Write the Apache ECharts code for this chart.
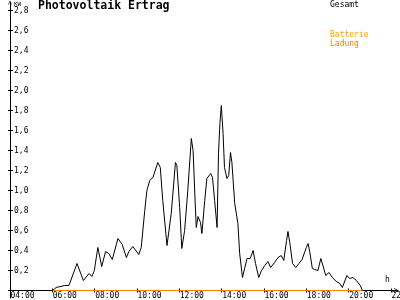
<!DOCTYPE html>
<html><head><meta charset="utf-8">
<script src="https://cdn.jsdelivr.net/npm/echarts@6/dist/echarts.min.js"></script>
<style>html,body{margin:0;padding:0;background:#fff}#c{width:400px;height:300px}</style>
</head><body><div id="c"></div>
<script>
// ---- data ----
const xTickLabels = ['04:00','06:00','08:00','10:00','12:00','14:00','16:00','18:00','20:00','22:00'];
const yTickLabels = ['', '0,2','0,4','0,6','0,8','1,0','1,2','1,4','1,6','1,8','2,0','2,2','2,4','2,6','2,8'];
const gesamtTimes = ['06:01','06:11','06:35','06:47','07:10','07:28','07:44','07:52','07:59','08:09','08:20','08:31','08:40','08:50','09:06','09:18','09:30','09:37','09:48','10:05','10:12','10:22','10:28','10:36','10:45','10:50','10:59','11:06','11:13','11:25','11:37','11:49','11:53','12:01','12:07','12:15','12:24','12:34','12:39','12:45','12:48','12:53','13:00','13:04','13:12','13:18','13:23','13:29','13:34','13:40','13:47','13:51','13:55','13:59','14:04','14:08','14:15','14:20','14:25','14:29','14:37','14:46','14:51','14:59','15:05','15:12','15:21','15:29','15:36','15:45','15:53','16:02','16:11','16:19','16:30','16:40','16:49','16:56','17:04','17:08','17:13','17:21','17:30','17:39','17:48','17:53','18:00','18:05','18:10','18:17','18:24','18:33','18:41','18:47','18:55','19:04','19:14','19:25','19:35','19:42','19:55','20:03','20:12','20:22','20:33','20:39'];
const gesamtValues = [0,0.03,0.05,0.05,0.27,0.10,0.17,0.14,0.20,0.43,0.24,0.39,0.37,0.31,0.52,0.46,0.33,0.39,0.44,0.36,0.43,0.80,1.00,1.10,1.13,1.14,1.28,1.23,0.90,0.45,0.77,1.28,1.25,0.83,0.42,0.60,1.00,1.52,1.40,0.87,0.63,0.74,0.68,0.57,0.90,1.12,1.10,1.17,1.13,0.90,0.63,1.37,1.67,1.85,1.57,1.23,1.12,1.15,1.38,1.28,0.87,0.67,0.37,0.13,0.22,0.32,0.32,0.40,0.27,0.13,0.20,0.25,0.29,0.23,0.28,0.33,0.35,0.30,0.50,0.59,0.48,0.27,0.23,0.27,0.31,0.30,0.43,0.47,0.38,0.22,0.21,0.20,0.32,0.25,0.15,0.18,0.13,0.09,0.07,0.03,0.15,0.12,0.13,0.10,0.05,0];
const ladungTimes = ['06:01','20:39'];
const ladungValues = [0,0];
const seriesNames = ['Gesamt','Batterie Ladung'];
const legendLines = ['Gesamt','Batterie','Ladung'];
const titleText = 'Photovoltaik Ertrag';
const yUnit = 'KW';
const xUnit = 'h';

// ---- build ----
const toH = t => { const p = t.split(':'); return +p[0] + (+p[1]) / 60; };
const pair = (ts, vs) => ts.map((t, i) => [toH(t), vs[i]]);
const MONO = "'DejaVu Sans Mono', monospace";
const chevron = 'path://M0,10 L5,0 L10,10 L8.4,10 L5,3.2 L1.6,10 Z';

const xBase = { type:'value', min:4, max:22, interval:2, splitLine:{show:false}, axisLine:{show:false} };
const yBase = { type:'value', min:0, max:2.8, interval:0.2, splitLine:{show:false}, axisLine:{show:false} };

const chart = echarts.init(document.getElementById('c'), null, {renderer:'canvas'});
chart.setOption({
  animation:false,
  backgroundColor:'#fff',
  title:{ text:titleText, left:38, top:0, padding:0,
    textStyle:{ fontFamily:MONO, fontWeight:'bold', fontSize:11.5, color:'#000' } },
  grid:[
    { left:10, right:9, top:10.5, bottom:9.5, containLabel:false, outerBoundsMode:'none' },
    { left:10, right:3.5, top:2.5, bottom:2, containLabel:false, outerBoundsMode:'none' }
  ],
  xAxis:[
    Object.assign({}, xBase, { gridIndex:0, position:'bottom',
      axisTick:{ show:true, length:2, lineStyle:{color:'#000'} },
      axisLabel:{ show:true, margin:1, align:'center', padding:[0,0,0,25], fontFamily:MONO, fontSize:8, color:'#000',
        showMinLabel:true, showMaxLabel:true, hideOverlap:false,
        formatter: v => xTickLabels[Math.round((v - 4) / 2)] } }),
    Object.assign({}, xBase, { gridIndex:0, position:'bottom',
      axisTick:{ show:true, inside:true, length:2, lineStyle:{color:'#000'} }, axisLabel:{show:false} }),
    { type:'value', gridIndex:1, min:0, max:1, offset:-7.5, splitLine:{show:false}, axisTick:{show:false}, axisLabel:{show:false},
      axisLine:{ show:true, onZero:false, symbol:['none', chevron], symbolSize:[7,5], lineStyle:{color:'#000', width:1} } }
  ],
  yAxis:[
    Object.assign({}, yBase, { gridIndex:0, position:'left',
      axisTick:{ show:true, length:2, lineStyle:{color:'#000'} },
      axisLabel:{ show:true, inside:true, margin:4, fontFamily:MONO, fontSize:8, color:'#000',
        formatter: v => yTickLabels[Math.round(v / 0.2)] } }),
    Object.assign({}, yBase, { gridIndex:0, position:'left',
      axisTick:{ show:true, inside:true, length:3, lineStyle:{color:'#000'} }, axisLabel:{show:false} }),
    { type:'value', gridIndex:1, min:0, max:1, splitLine:{show:false}, axisTick:{show:false}, axisLabel:{show:false},
      axisLine:{ show:true, onZero:false, symbol:['none', chevron], symbolSize:[6,4], lineStyle:{color:'#000', width:1} } }
  ],
  series:[
    { name:seriesNames[0], type:'line', xAxisIndex:0, yAxisIndex:0, data:pair(gesamtTimes, gesamtValues),
      showSymbol:false, symbol:'none', lineStyle:{ color:'#000', width:1 }, z:3 },
    { name:seriesNames[1], type:'line', xAxisIndex:0, yAxisIndex:0, data:pair(ladungTimes, ladungValues),
      showSymbol:false, symbol:'none', lineStyle:{ color:'#FF8000', width:1 }, z:4 }
  ],
  graphic:[
    { type:'text', left:14, top:1, style:{ text:yUnit, font:"6px 'DejaVu Sans Mono', monospace", fill:'#000' } },
    { type:'text', left:385, top:276, style:{ text:xUnit, font:"8px 'DejaVu Sans Mono', monospace", fill:'#000' } },
    { type:'text', left:330, top:1, style:{ text:legendLines[0], font:"8px 'DejaVu Sans Mono', monospace", fill:'#000' } },
    { type:'text', left:330, top:31, style:{ text:legendLines[1], font:"8px 'DejaVu Sans Mono', monospace", fill:'#FFA500' } },
    { type:'text', left:330, top:40, style:{ text:legendLines[2], font:"8px 'DejaVu Sans Mono', monospace", fill:'#FF8000' } }
  ]
});
</script></body></html>
